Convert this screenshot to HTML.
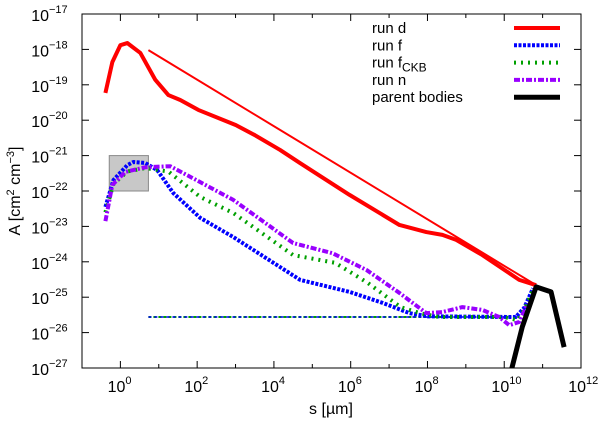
<!DOCTYPE html>
<html><head><meta charset="utf-8"><style>
html,body{margin:0;padding:0;background:#fff;width:600px;height:421px;overflow:hidden}
svg text{font-family:"Liberation Sans",sans-serif;fill:#000}
</style></head><body>
<svg id="chart" width="600" height="421" viewBox="0 0 600 421"></svg>
<script>
// Data (log10 s [µm], log10 A)
const runD = [[-0.39,-19.23],[-0.21,-18.36],[0,-17.88],[0.18,-17.82],[0.52,-18.10],[0.91,-18.86],[1.25,-19.29],[1.56,-19.43],[2.03,-19.71],[3.01,-20.14],[3.5,-20.42],[4.16,-20.84],[4.68,-21.21],[5.97,-22.11],[7.27,-22.96],[7.97,-23.16],[8.39,-23.24],[8.75,-23.38],[9.43,-23.81],[10.39,-24.51],[10.83,-24.66]];
const runDThin = [[0.73,-18.02],[10.83,-24.66]];
const runF = [[-0.39,-22.45],[-0.18,-21.69],[0.18,-21.27],[0.34,-21.18],[0.65,-21.21],[0.96,-21.41],[1.38,-22.06],[2.08,-22.76],[2.94,-23.30],[4.68,-24.51],[5.97,-24.85],[6.83,-25.16],[7.53,-25.45],[8.0,-25.54],[10.3,-25.56],[10.52,-25.3],[10.75,-24.75]];
const runFCKB = [[-0.39,-22.6],[-0.18,-21.8],[0.18,-21.45],[0.65,-21.35],[1.25,-21.45],[2.08,-22.17],[2.94,-22.62],[4.5,-23.81],[5.6,-24.03],[6.45,-24.6],[7.3,-25.28],[7.8,-25.45],[8.3,-25.56],[10.0,-25.56],[10.35,-25.65],[10.55,-25.3],[10.75,-24.8]];
const runN = [[-0.39,-22.85],[-0.21,-21.83],[0.13,-21.46],[0.65,-21.33],[1.3,-21.3],[2.08,-21.75],[2.94,-22.25],[4.5,-23.47],[5.53,-23.76],[6.41,-24.23],[7.27,-24.88],[7.97,-25.45],[8.39,-25.42],[8.91,-25.28],[9.43,-25.36],[9.87,-25.56],[10.13,-25.79],[10.39,-25.7],[10.6,-25.2]];
const parentBodies = [[10.13,-27.3],[10.47,-25.84],[10.83,-24.71],[11.22,-24.85],[11.56,-26.41]];
const xTicks = [0,2,4,6,8,10,12];
const yTicks = [-17,-18,-19,-20,-21,-22,-23,-24,-25,-26,-27];
const legendLabels = ["run d","run f","run f","run n","parent bodies"];

const L=82,R=581,T=14,B=368,XMIN=-1,XMAX=12,YMIN=-27,YMAX=-17;
const sx=v=>L+(v-XMIN)/(XMAX-XMIN)*(R-L);
const sy=v=>B-(v-YMIN)/(YMAX-YMIN)*(B-T);
const NS="http://www.w3.org/2000/svg";
const svg=document.getElementById('chart');
function mk(tag,attrs,parent){const e=document.createElementNS(NS,tag);for(const k in attrs)e.setAttribute(k,attrs[k]);(parent||svg).appendChild(e);return e;}

const defs=mk('defs',{});const cp=mk('clipPath',{id:'pc'},defs);mk('rect',{x:L,y:T,width:R-L,height:B-T},cp);

const box=mk('rect',{x:sx(-0.29),y:sy(-21),width:sx(0.73)-sx(-0.29),height:sy(-22)-sy(-21),fill:'#c8c8c8',stroke:'#888','stroke-width':1});



const fr=mk('rect',{x:L,y:T,width:R-L,height:B-T,fill:'none',stroke:'#000','stroke-width':1});



for(let d=XMIN;d<=XMAX;d++){
  const x=sx(d);const len=(d%2===0)?7:4;
  mk('line',{x1:x,y1:B,x2:x,y2:B-len,stroke:'#000'});
  mk('line',{x1:x,y1:T,x2:x,y2:T+len,stroke:'#000'});
}
xTicks.forEach(t=>{
  const tx=mk('text',{x:sx(t)+5,y:B+24,'font-size':16,'text-anchor':'end'});
  
  
  tx.textContent='10';
  const tx2=mk('text',{x:sx(t)+5,y:B+16,'font-size':11});
  
  
  tx2.textContent=String(t);
});
yTicks.forEach(t=>{
  const y=sy(t);
  mk('line',{x1:L,y1:y,x2:L+7,y2:y,stroke:'#000'});
  mk('line',{x1:R,y1:y,x2:R-7,y2:y,stroke:'#000'});
  const tx=mk('text',{x:49,y:y+7,'font-size':16,'text-anchor':'end'});
  
  
  tx.textContent='10';
  const tx2=mk('text',{x:49,y:y-1,'font-size':11});
  
  
  tx2.textContent='\u2212'+Math.abs(t);
});

const xt=mk('text',{x:331,y:414,'font-size':16,'text-anchor':'middle'});


xt.textContent='s [\u00b5m]';
const yt=mk('text',{x:0,y:0,'font-size':16,'text-anchor':'middle',transform:'translate(20,191) rotate(-90)'});


yt.innerHTML='A [cm<tspan dy="-6" font-size="11">2</tspan><tspan dy="6"> cm</tspan><tspan dy="-6" font-size="11">\u22123</tspan><tspan dy="6">]</tspan>';

const g=mk('g',{'clip-path':'url(#pc)'});
function line(data,style,name){
  const p=mk('polyline',Object.assign({points:data.map(d=>sx(d[0])+','+sy(d[1])).join(' '),fill:'none','stroke-linejoin':'round'},style),g);
  
  
}
const flatBase=[[0.73,-25.56],[10.4,-25.56]];
line(flatBase,{stroke:'#00a000','stroke-width':2,'stroke-dasharray':'3,2'},'series-flat-green');
line(flatBase,{stroke:'#0000ff','stroke-width':1.5,'stroke-dasharray':'3,3'},'series-flat-blue');
const stD={stroke:'#ff0000','stroke-width':4};
const stF={stroke:'#0000ff','stroke-width':4,'stroke-dasharray':'3,1.5'};
const stC={stroke:'#00a000','stroke-width':4,'stroke-dasharray':'2,5'};
const stN={stroke:'#9900ff','stroke-width':4,'stroke-dasharray':'6,2,2,2'};
const stP={stroke:'#000','stroke-width':5};
line(runF,stF,'series-run-f');
line(runFCKB,stC,'series-run-fckb');
line(runN,stN,'series-run-n');
line(runD,stD,'series-run-d');
line(runDThin,{stroke:'#ff0000','stroke-width':2},'series-run-d-powerlaw');
line(parentBodies,stP,'series-parent-bodies');

const styles=[stD,stF,stC,stN,stP];
legendLabels.forEach((lab,i)=>{
  const y=28+i*17.3;
  const lg=mk('g',{});
  
  
  const t=mk('text',{x:372,y:y+5,'font-size':15},lg);
  t.textContent=lab;
  if(i===2){const s=mk('tspan',{dy:4,'font-size':12},t);s.textContent='CKB';}
  mk('line',Object.assign({x1:514,y1:y,x2:560,y2:y},styles[i]),lg);
});
</script>
</body></html>
